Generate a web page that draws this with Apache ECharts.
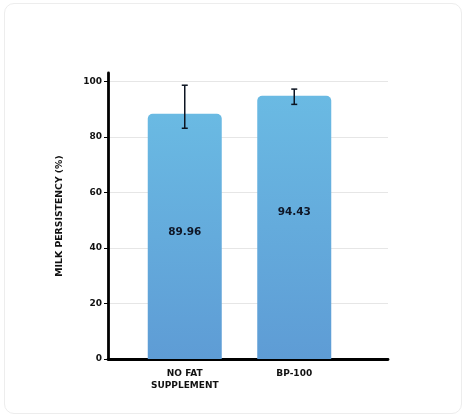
<!DOCTYPE html>
<html lang="en">
<head>
  <meta charset="UTF-8">
  <title>Milk persistency</title>
  <style>
    html, body { margin: 0; padding: 0; background: #fff; }
    .card {
      position: absolute; left: 4px; top: 3px; width: 456px; height: 409px;
      border: 1px solid #ededed; border-radius: 10px;
    }
    #chart { position: absolute; left: 0; top: 0; width: 466px; height: 418px; }
  </style>
</head>
<body>
  <div class="card"></div>
  <div id="chart"></div>
  <script src="https://cdn.jsdelivr.net/npm/echarts@6/dist/echarts.min.js"></script>
  <script>
    // data
    var categories = ['NO FAT\nSUPPLEMENT', 'BP-100'];
    var barValues = [88.3, 94.8];
    var barLabels = ['89.96', '94.43'];
    var errLow = [83.1, 91.7];
    var errHigh = [98.6, 97.2];
    var yTicks = [0, 20, 40, 60, 80, 100];

    var font = '"DejaVu Sans", sans-serif';
    var labelShift = [-4, -15];

    var myChart = echarts.init(document.getElementById('chart'), null, { renderer: 'canvas' });

    var bars = barValues.map(function (v, i) {
      return {
        value: v,
        label: { formatter: barLabels[i], offset: [0, labelShift[i]] }
      };
    });

    var errData = errLow.map(function (lo, i) {
      return [i, lo, errHigh[i]];
    });

    var option = {
      backgroundColor: 'transparent',
      animation: false,
      grid: [
        // axes frame
        { left: 108, right: 78, top: 73, bottom: 59 },
        // bars
        { left: 130, right: 117, top: 73, bottom: 59 }
      ],
      xAxis: [
        {
          gridIndex: 0, type: 'value', min: 0, max: 1,
          axisLine: { show: true, onZero: false, lineStyle: { color: '#000', width: 2.8 } },
          axisTick: { show: false }, axisLabel: { show: false }, splitLine: { show: false }
        },
        {
          gridIndex: 1, type: 'category', data: categories,
          axisLine: { show: false }, axisTick: { show: false },
          axisLabel: {
            margin: 9, color: '#111', fontFamily: font, fontWeight: 'bold',
            fontSize: 9, lineHeight: 12
          }
        }
      ],
      yAxis: [
        {
          gridIndex: 0, type: 'value', min: yTicks[0], max: 103, interval: 20,
          name: 'MILK PERSISTENCY (%)', nameLocation: 'middle', nameGap: 44,
          nameTextStyle: { color: '#111', fontFamily: font, fontWeight: 'bold', fontSize: 9.3 },
          axisLine: { show: true, lineStyle: { color: '#000', width: 2.8 } },
          axisTick: { show: true, length: 4, lineStyle: { color: '#000', width: 1 } },
          axisLabel: {
            margin: 6, color: '#111', fontFamily: font, fontWeight: 'bold', fontSize: 9,
            showMaxLabel: false
          },
          splitLine: {
            show: true, showMinLine: false, showMaxLine: false,
            lineStyle: { color: '#e6e6e6', width: 1 }
          }
        },
        {
          gridIndex: 1, type: 'value', min: yTicks[0], max: 103, show: false
        }
      ],
      series: [
        {
          type: 'bar', xAxisIndex: 1, yAxisIndex: 1, data: bars,
          barWidth: 74,
          itemStyle: {
            borderRadius: [5, 5, 0, 0],
            color: new echarts.graphic.LinearGradient(0, 0, 0, 1, [
              { offset: 0, color: '#6abae3' },
              { offset: 1, color: '#5e9cd5' }
            ])
          },
          label: {
            show: true, position: 'inside', color: '#0f1626',
            fontFamily: font, fontWeight: 'bold', fontSize: 10.5
          },
          z: 2
        },
        {
          type: 'custom', xAxisIndex: 1, yAxisIndex: 1, data: errData, z: 5,
          renderItem: function (params, api) {
            var x = api.coord([api.value(0), api.value(1)])[0];
            var yLo = api.coord([api.value(0), api.value(1)])[1];
            var yHi = api.coord([api.value(0), api.value(2)])[1];
            var cap = 3;
            var style = { stroke: '#0d1522', lineWidth: 1.5 };
            return {
              type: 'group',
              children: [
                { type: 'line', shape: { x1: x, y1: yHi, x2: x, y2: yLo }, style: style },
                { type: 'line', shape: { x1: x - cap, y1: yHi, x2: x + cap, y2: yHi }, style: style },
                { type: 'line', shape: { x1: x - cap, y1: yLo, x2: x + cap, y2: yLo }, style: style }
              ]
            };
          }
        }
      ]
    };

    myChart.setOption(option);
  </script>
</body>
</html>
